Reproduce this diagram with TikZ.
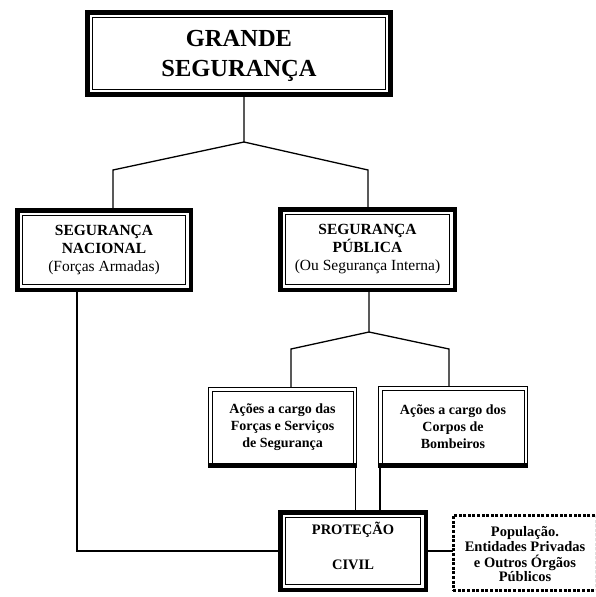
\documentclass[tikz,border=0pt]{standalone}
\usepackage{fontspec}
\setmainfont{Liberation Serif}
\begin{document}
\begin{tikzpicture}[x=1pt,y=-1pt,
  box/.style={draw, outer sep=0pt, inner sep=2pt, align=center, fill=white},
  bigbox/.style={box, line width=5pt},
  midbox/.style={box, line width=4.5pt},
  acaobox/.style={box, line width=1.2pt},
  dotbox/.style={box, line width=2.6pt, dash pattern=on 3pt off 1.6pt},
  conn/.style={draw, line width=1.3pt},
  innerline/.style={line width=0.9pt}
]
\useasboundingbox (0,0) rectangle (595,597);
\clip (0,0) rectangle (595,597);
\fill[white] (0,0) rectangle (595,597);

% nodes
\node[bigbox, minimum width=303pt, minimum height=82pt,
      font=\fontsize{24.5}{30}\selectfont\bfseries] (grande) at (239,53.5)
  {\raisebox{-2pt}[\height][\depth]{\begin{tabular}{@{}c@{}}GRANDE\\SEGURANÇA\end{tabular}}};
\node[midbox, minimum width=173.5pt, minimum height=79.5pt,
      font=\fontsize{15.5}{18}\selectfont] (nac) at (104,250)
  {\textbf{SEGURANÇA}\\\textbf{NACIONAL}\\(Forças Armadas)};
\node[midbox, minimum width=174.5pt, minimum height=80.5pt,
      font=\fontsize{15.5}{18}\selectfont] (pub) at (367.5,249.5)
  {\textbf{SEGURANÇA}\\\textbf{PÚBLICA}\\(Ou Segurança Interna)};
\node[acaobox, minimum width=147.8pt, minimum height=79.8pt,
      font=\fontsize{14}{17}\selectfont\bfseries] (acao1) at (282.5,427.5)
  {Ações a cargo das\\Forças e Serviços\\de Segurança};
\node[acaobox, minimum width=148.8pt, minimum height=80.8pt,
      font=\fontsize{14}{17}\selectfont\bfseries] (acao2) at (453,427)
  {Ações a cargo dos\\Corpos de\\Bombeiros};
\node[midbox, minimum width=145.5pt, minimum height=77.5pt,
      font=\fontsize{14.5}{18}\selectfont\bfseries] (prot) at (353,551)
  {\raisebox{3pt}[\height][\depth]{\begin{tabular}{@{}c@{}}PROTEÇÃO\\[17pt]CIVIL\end{tabular}}};
\node[dotbox, minimum width=143.5pt, minimum height=75.5pt,
      font=\fontsize{14.5}{15.5}\selectfont\bfseries] (pop) at (525,553)
  {\raisebox{-3pt}[\height][\depth]{\begin{tabular}{@{}c@{}}População.\\[-1pt]Entidades Privadas\\[-1pt]e Outros Órgãos\\[-1pt]Públicos\end{tabular}}};

% inner lines of the framed boxes
\draw[innerline] ([shift={(5,5)}]grande.north west) rectangle ([shift={(-5,-5)}]grande.south east);
\foreach \n in {nac,pub,prot}
  \draw[innerline] ([shift={(5,5)}]\n.north west) rectangle ([shift={(-5,-5)}]\n.south east);
\foreach \n in {acao1,acao2}{
  \draw[line width=0.8pt] ([shift={(3.3,3.3)}]\n.north west) rectangle ([shift={(-3.3,-3.3)}]\n.south east);
  \draw[line width=5pt] ([yshift=2]\n.south west) -- ([yshift=2]\n.south east);
}

% junction points
\coordinate (j1) at (244,142);
\coordinate (l1) at (113,170);
\coordinate (r1) at (368,170);
\coordinate (j2) at (369,332);
\coordinate (l2) at (291,349);
\coordinate (r2) at (449,349);
\coordinate (c1) at (77,551);

% connectors
\draw[conn] (grande.south -| j1) -- (j1) -- (l1) -- (l1 |- nac.north);
\draw[conn] (j1) -- (r1) -- (r1 |- pub.north);
\draw[conn] (pub.south -| j2) -- (j2) -- (l2) -- (l2 |- acao1.north);
\draw[conn] (j2) -- (r2) -- (r2 |- acao2.north);
\draw[conn] ([xshift=-0.6]acao1.south east) -- ([xshift=-0.6]acao1.south east |- prot.north);
\draw[conn] ([xshift=1.5]acao2.south west) -- ([xshift=1.5]acao2.south west |- prot.north);
\draw[conn] (nac.south -| c1) -- (c1) -- (prot.west);
\draw[conn] (prot.east) -- (prot.east -| pop.west);
\end{tikzpicture}
\end{document}
